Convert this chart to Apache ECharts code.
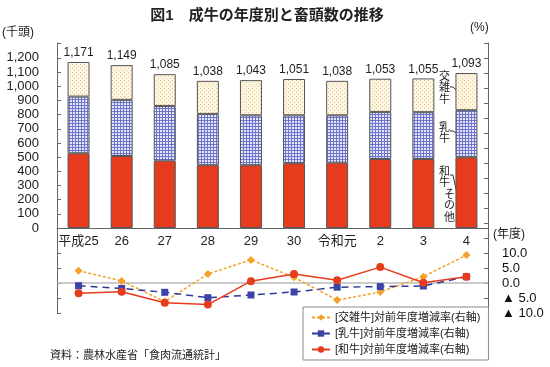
<!DOCTYPE html>
<html><head><meta charset="utf-8">
<script src="https://cdn.jsdelivr.net/npm/echarts@6/dist/echarts.min.js"></script>
<style>html,body{margin:0;padding:0;background:#fff}#c{width:550px;height:367px}</style>
</head><body><div id="c"></div>
<script>
const categories = ['平成25','26','27','28','29','30','令和元','2','3','4'];
const wagyu  = [527,508,475,443,443,457,461,487,487,499];
const dairy  = [400,396,386,362,352,338,334,332,330,332];
const cross  = [244,245,224,233,248,256,243,234,238,262];
const totals = [1171,1149,1085,1038,1043,1051,1038,1053,1055,1093];
const rateCross = [4.1,0.7,-6.2,3.0,7.7,1.9,-5.7,-3.0,2.1,9.3];
const rateDairy = [-0.9,-1.8,-3.1,-4.9,-4.0,-3.0,-1.4,-1.2,-1.0,2.1];
const rateWagyu = [-3.4,-2.9,-6.6,-7.2,0.6,3.0,0.9,5.3,0.1,2.1];
const leftTicks = [0,100,200,300,400,500,600,700,800,900,1000,1100,1200];
const rateLabels = [-10,-5,0,5,10];

const FONT = '"Liberation Sans","Noto Sans CJK JP",sans-serif';
const rightTicks = []; for (let v=-10; v<=80; v+=5) rightTicks.push(v);

function pattern(w,h,draw){const c=document.createElement('canvas');c.width=w;c.height=h;draw(c.getContext('2d'));return c;}
const blueP = pattern(3,3,g=>{g.fillStyle='#e4e6f8';g.fillRect(0,0,3,3);g.fillStyle='#6c74cc';g.fillRect(0,0,3,1);g.fillRect(0,0,1,3);});
const creamP = pattern(4,4,g=>{g.fillStyle='#fdf6e3';g.fillRect(0,0,4,4);g.fillStyle='#efc48a';g.fillRect(0,0,1,1);g.fillRect(2,2,1,1);});

const fmt = v => String(v).replace(/\B(?=(\d{3})+(?!\d))/g, ',');
const chart = echarts.init(document.getElementById('c'));
const barBorder = {borderColor:'#555', borderWidth:1};
chart.setOption({
  animation:false,
  textStyle:{fontFamily:FONT},
  title:{text:'図1　成牛の年度別と畜頭数の推移', left:262, top:3, textAlign:'center',
    textStyle:{fontSize:15, fontWeight:'bold', color:'#222', fontFamily:FONT}},
  grid:[
    {left:57, right:62, top:43.7, height:184.3},
    {left:57, right:62, top:43, height:270}
  ],
  xAxis:[
    {gridIndex:0, type:'category', data:categories, boundaryGap:true,
     axisLine:{lineStyle:{color:'#666'}}, axisTick:{show:false},
     axisLabel:{interval:0, fontSize:13, color:'#222', margin:7, fontFamily:FONT}},
    {gridIndex:1, type:'category', data:categories, boundaryGap:true, show:false}
  ],
  yAxis:[
    {gridIndex:0, type:'value', min:0, max:1300, interval:100, position:'left',
     axisLine:{show:true, lineStyle:{color:'#666'}},
     axisTick:{show:true, inside:true, length:4, lineStyle:{color:'#666'}},
     splitLine:{show:false},
     axisLabel:{customValues:leftTicks, formatter:v=>fmt(v), fontSize:13, color:'#222', margin:18, fontFamily:FONT}},
    {gridIndex:1, type:'value', min:-10, max:80, interval:5, position:'left',
     axisLine:{show:true, lineStyle:{color:'#666'}},
     axisTick:{show:true, inside:true, length:4, customValues:rateLabels, lineStyle:{color:'#666'}},
     splitLine:{show:false}, axisLabel:{show:false}},
    {gridIndex:1, type:'value', min:-10, max:80, interval:5, position:'right',
     axisLine:{show:true, lineStyle:{color:'#666'}},
     axisTick:{show:true, inside:true, length:4, customValues:rightTicks, lineStyle:{color:'#666'}},
     splitLine:{show:false},
     axisLabel:{customValues:rateLabels, formatter:v=> v<0 ? '▲ '+(-v).toFixed(1) : v.toFixed(1),
       fontSize:13, color:'#111', margin:14, fontFamily:FONT}}
  ],
  legend:{
    orient:'vertical', left:303, top:307, backgroundColor:'#fff', borderColor:'#888', borderWidth:1,
    padding:[5,8,5,8], itemWidth:18, itemHeight:8, itemGap:5,
    textStyle:{fontSize:11, color:'#222', fontFamily:FONT},
    data:['[交雑牛]対前年度増減率(右軸)','[乳牛]対前年度増減率(右軸)','[和牛]対前年度増減率(右軸)']
  },
  series:[
    {name:'和牛', type:'bar', stack:'t', xAxisIndex:0, yAxisIndex:0, barWidth:22, data:wagyu,
     itemStyle:Object.assign({color:'#e63b1c'}, barBorder)},
    {name:'乳牛', type:'bar', stack:'t', xAxisIndex:0, yAxisIndex:0, barWidth:22, data:dairy,
     itemStyle:Object.assign({color:{image:blueP, repeat:'repeat'}}, barBorder)},
    {name:'交雑牛', type:'bar', stack:'t', xAxisIndex:0, yAxisIndex:0, barWidth:22, data:cross,
     itemStyle:Object.assign({color:{image:creamP, repeat:'repeat'}}, barBorder),
     label:{show:true, position:'top', distance:3, fontSize:12, color:'#222', fontFamily:FONT,
       formatter:p=>fmt(totals[p.dataIndex])}},
    {name:'[交雑牛]対前年度増減率(右軸)', type:'line', xAxisIndex:1, yAxisIndex:2, data:rateCross,
     symbol:'diamond', symbolSize:8, color:'#f2a22a',
     lineStyle:{color:'#f2a22a', width:1.5, type:[3,2]}, itemStyle:{color:'#f2a22a'}, z:3},
    {name:'[乳牛]対前年度増減率(右軸)', type:'line', xAxisIndex:1, yAxisIndex:2, data:rateDairy,
     symbol:'rect', symbolSize:7, color:'#2f3896',
     lineStyle:{color:'#2f3896', width:1.5, type:[7,5]}, itemStyle:{color:'#3a44a8'}, z:3},
    {name:'[和牛]対前年度増減率(右軸)', type:'line', xAxisIndex:1, yAxisIndex:2, data:rateWagyu,
     symbol:'circle', symbolSize:8, color:'#e63b1c',
     lineStyle:{color:'#e63b1c', width:1.5}, itemStyle:{color:'#e63b1c'}, z:4,
     markLine:{silent:true, symbol:'none', label:{show:false}, z:1,
       lineStyle:{color:'#bbb', width:1.5, type:'solid'}, data:[{yAxis:0}]}}
  ],
  graphic:[
    {type:'text', left:2, top:27, style:{text:'(千頭)', font:'12px '+FONT, fill:'#222'}},
    {type:'text', left:470, top:22, style:{text:'(%)', font:'12px '+FONT, fill:'#222'}},
    {type:'text', left:493, top:229, style:{text:'(年度)', font:'12px '+FONT, fill:'#222'}},
    {type:'text', left:439, top:71, style:{text:'交\n雑\n牛', font:'11px '+FONT, lineHeight:11.5, fill:'#222'}},
    {type:'text', left:439, top:122, style:{text:'乳\n牛', font:'11px '+FONT, lineHeight:11.5, fill:'#222'}},
    {type:'text', left:439, top:166, style:{text:'和\n牛', font:'11px '+FONT, lineHeight:11.5, fill:'#222'}},
    {type:'text', left:444, top:189, style:{text:'そ\nの\n他', font:'11px '+FONT, lineHeight:11.5, fill:'#222'}},
    {type:'polyline', shape:{points:[[450,87],[453,87],[456,90]]}, style:{stroke:'#333', lineWidth:1, fill:null}},
    {type:'polyline', shape:{points:[[450,131],[453,131],[456,133]]}, style:{stroke:'#333', lineWidth:1, fill:null}},
    {type:'polyline', shape:{points:[[450,175],[453,175],[457,194]]}, style:{stroke:'#333', lineWidth:1, fill:null}},
    {type:'polyline', shape:{points:[[457,205],[467,227]]}, style:{stroke:'#333', lineWidth:1, fill:null}},
    {type:'text', left:50, top:350, style:{text:'資料：農林水産省「食肉流通統計」', font:'11px '+FONT, fill:'#222'}}
  ]
});
</script></body></html>
